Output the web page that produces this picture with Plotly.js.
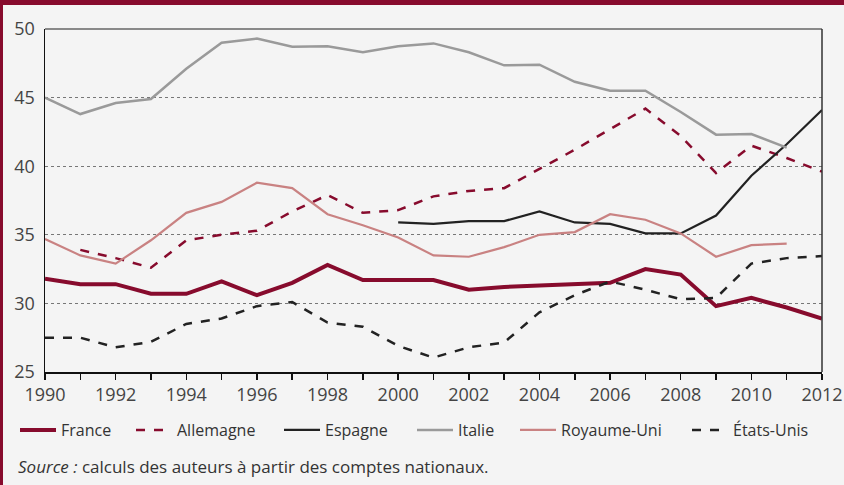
<!DOCTYPE html>
<html><head><meta charset="utf-8">
<script src="https://cdn.plot.ly/plotly-3.0.1.min.js"></script>
<style>html,body{margin:0;padding:0;background:#f4f4f4;}#c{width:844px;height:485px;}</style>
</head><body><div id="c"></div>
<script>
const years = [1990,1991,1992,1993,1994,1995,1996,1997,1998,1999,2000,2001,2002,2003,2004,2005,2006,2007,2008,2009,2010,2011,2012];
const france    = [31.8,31.4,31.4,30.7,30.7,31.6,30.6,31.5,32.8,31.7,31.7,31.7,31.0,31.2,31.3,31.4,31.5,32.5,32.1,29.8,30.4,29.7,28.9];
const allemagne = [null,33.9,33.3,32.6,34.6,35.0,35.3,36.7,37.9,36.6,36.8,37.8,38.2,38.4,39.8,41.2,42.7,44.2,42.2,39.5,41.5,40.6,39.6];
const espagne   = [null,null,null,null,null,null,null,null,null,null,35.9,35.8,36.0,36.0,36.7,35.9,35.8,35.1,35.1,36.4,39.3,41.6,44.1];
const italie    = [45.0,43.8,44.6,44.9,47.1,49.0,49.3,48.7,48.75,48.3,48.75,48.95,48.3,47.35,47.4,46.15,45.5,45.5,43.95,42.3,42.35,41.35,null];
const royaumeUni= [34.7,33.5,32.9,34.6,36.6,37.4,38.8,38.4,36.5,35.7,34.8,33.5,33.4,34.1,35.0,35.2,36.5,36.1,35.1,33.4,34.25,34.35,null];
const etatsUnis = [27.5,27.5,26.8,27.2,28.5,28.9,29.8,30.1,28.6,28.3,26.9,26.05,26.8,27.15,29.35,30.6,31.6,31.0,30.3,30.4,32.9,33.3,33.45];

const names = ['France','Allemagne','Espagne','Italie','Royaume-Uni','États-Unis'];
const series = [france, allemagne, espagne, italie, royaumeUni, etatsUnis];
const colors = ['#870b2d','#870b2d','#222222','#9a9a9a','#c98282','#222222'];
const widths = [4,2.5,2.2,2.5,2.2,2.5];
const dashes = ['solid','dash','solid','solid','solid','dash'];
const legendStarts = [16,132,280,413,516,688];

const FONT = 'Open Sans, Noto Sans, sans-serif';
const L = 45, T = 29, PW = 777, PH = 343;

const traces = series.map((s,i)=>({
  x: years, y: s, type:'scatter', mode:'lines', name: names[i],
  line:{color:colors[i], width:widths[i], dash:dashes[i]},
  legend: i===0 ? 'legend' : 'legend'+(i+1),
  connectgaps:false, hoverinfo:'skip'
}));

const layout = {
  width:844, height:485,
  margin:{l:L, r:844-L-PW, t:T, b:485-T-PH},
  paper_bgcolor:'#f4f4f4', plot_bgcolor:'#f4f4f4',
  font:{family:FONT, color:'#333', size:16},
  showlegend:true,
  xaxis:{range:[1990,2012], dtick:2, tick0:1990, showgrid:false, zeroline:false,
    showline:true, linecolor:'#111', linewidth:1.5,
    ticks:'outside', ticklen:6, tickcolor:'#111', tickwidth:1.5,
    minor:{dtick:1, ticks:'outside', ticklen:6, tickcolor:'#111', tickwidth:1.5},
    tickfont:{family:FONT, size:18, color:'#444'}},
  yaxis:{range:[25,50], dtick:5, showgrid:true, gridcolor:'#777', griddash:'dot', gridwidth:1.2,
    zeroline:false, showline:true, linecolor:'#111', linewidth:1.5, ticks:'',
    ticklabelstandoff:5,
    tickfont:{family:FONT, size:18, color:'#444'}},
  shapes:[
    {type:'line', xref:'paper', yref:'paper', x0:0, x1:1, y0:1, y1:1, line:{color:'#666', width:1.5}},
    {type:'line', xref:'paper', yref:'paper', x0:1, x1:1, y0:0, y1:1, line:{color:'#333', width:1.5}},
    {type:'rect', xref:'paper', yref:'paper', x0:-L/PW, x1:(844-L)/PW, y0:1+(T-5)/PH, y1:1+T/PH+0.01, fillcolor:'#870b2d', line:{width:0}, layer:'above'},
    {type:'rect', xref:'paper', yref:'paper', x0:-L/PW-0.01, x1:-(L-3)/PW, y0:-(485-T-PH)/PH-0.01, y1:1+T/PH+0.01, fillcolor:'#870b2d', line:{width:0}, layer:'above'}
  ],
  annotations:[
    {xref:'paper', yref:'paper', x:(16-L)/PW, y:-(466-T-PH)/PH, xanchor:'left', yanchor:'middle', showarrow:false,
     text:'<i>Source :</i> calculs des auteurs à partir des comptes nationaux.', font:{family:FONT, size:17, color:'#333'}}
  ]
};
legendStarts.forEach((xs,i)=>{
  const key = i===0 ? 'legend' : 'legend'+(i+1);
  layout[key] = {x:(xs-L-1)/PW, xanchor:'left', y:-(430-T-PH)/PH, yanchor:'middle', orientation:'h',
    bgcolor:'rgba(0,0,0,0)', borderwidth:0, font:{family:FONT, size:16, color:'#333'}, itemwidth:36};
});
Plotly.newPlot('c', traces, layout, {staticPlot:true});
</script></body></html>
